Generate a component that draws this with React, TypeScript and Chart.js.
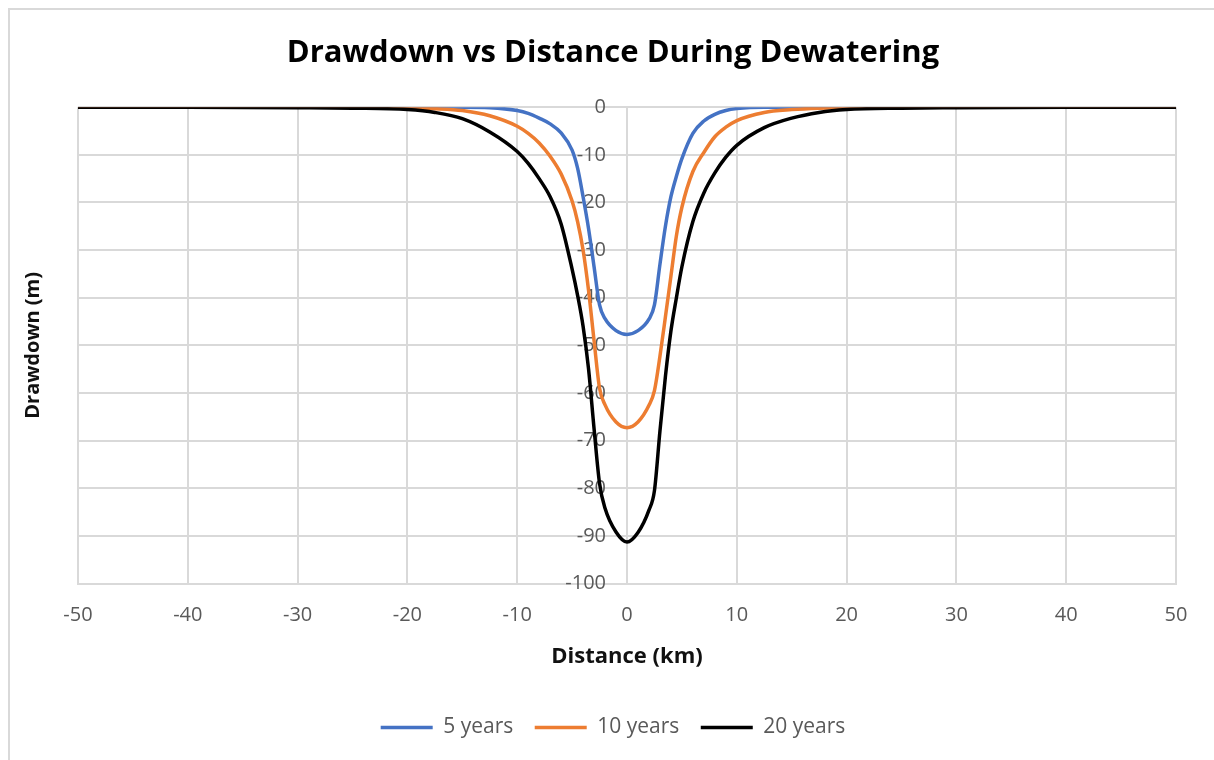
import { useEffect, useRef } from 'react';
import { Chart, registerables } from 'chart.js';

Chart.register(...registerables);

// Distance from the pumping centre (km) and drawdown (m) for each period
const distanceKm = [
  -50, -40, -30, -25, -20, -17.5, -15, -12.5, -10, -9,
  -8, -7, -6, -5, -4.5, -4, -3.5, -3, -2.5, -2,
  -1, 0, 1, 2, 2.5, 3, 3.5, 4, 4.5, 5,
  6, 7, 8, 9, 10, 12.5, 15, 17.5, 20, 25,
  30, 40, 50,
];

const drawdown5yr = [
  0, 0, 0, 0, 0, 0, 0, -0.1, -0.7, -1.3,
  -2.3, -3.5, -5.4, -9, -12.8, -18.8, -25.5, -33.5, -41.5, -44.4,
  -46.9, -47.7, -46.9, -44.5, -41.5, -33, -25, -18.8, -14.5, -10.8,
  -5.5, -2.9, -1.5, -0.7, -0.3, 0, 0, 0, 0, 0,
  0, 0, 0,
];

const drawdown10yr = [
  0, 0, 0, 0, -0.1, -0.3, -0.7, -1.8, -4.0, -5.5,
  -7.5, -10.3, -14, -19.7, -24, -30, -38.5, -49, -59, -62.5,
  -66.1, -67.3, -66.1, -62.6, -59.5, -52.3, -44, -35.5, -27, -21,
  -13.5, -9.5, -6.2, -4.2, -2.8, -1.1, -0.5, -0.2, -0.1, 0,
  0, 0, 0,
];

const drawdown20yr = [
  0, 0, -0.1, -0.2, -0.5, -1.1, -2.4, -5.2, -9.3, -11.8,
  -15, -18.8, -24.5, -34, -39.5, -46, -55, -67.5, -79, -84.2,
  -89.2, -91.3, -89.3, -84.6, -80.5, -68, -56.5, -47, -40, -33.5,
  -24, -18, -13.8, -10.5, -8, -4.3, -2.3, -1.1, -0.5, -0.2,
  -0.1, 0, 0,
];

const seriesLabels = ['5 years', '10 years', '20 years'];
const seriesColors = ['#4472C4', '#ED7D31', '#000000'];

const FONT = '"Open Sans", "Noto Sans", sans-serif';
const GRID = '#d9d9d9';
const MUTED = '#595959';

// an axis that only reserves space (or carries a title) beside the plot
const spacerAxis = (position: 'left' | 'right', width: number, title?: any) => ({
  type: 'linear',
  position,
  display: true,
  grid: { display: false, drawTicks: false },
  border: { display: false },
  ticks: { display: false },
  title: title ?? { display: false },
  afterFit: (scale: any) => {
    scale.width = width;
  },
});

export default function App() {
  const canvasRef = useRef<HTMLCanvasElement>(null);

  useEffect(() => {
    const canvas = canvasRef.current;
    if (!canvas) return;
    const toPoints = (ys: number[]) => distanceKm.map((x, i) => ({ x, y: ys[i] }));
    const series = [drawdown5yr, drawdown10yr, drawdown20yr];

    const chart = new Chart(canvas, {
      type: 'line',
      data: {
        datasets: series.map((ys, i) => ({
          label: seriesLabels[i],
          data: toPoints(ys),
          borderColor: seriesColors[i],
          backgroundColor: seriesColors[i],
          borderWidth: 3.5,
          pointRadius: 0,
          fill: false,
          cubicInterpolationMode: 'monotone' as const,
          xAxisID: 'x',
          yAxisID: 'y',
          // longest period drawn on top
          order: 3 - i,
        })),
      },
      options: {
        animation: false,
        responsive: false,
        maintainAspectRatio: false,
        layout: { padding: { left: 12, right: 0, top: 0, bottom: 12 } },
        plugins: {
          title: {
            display: true,
            text: 'Drawdown vs Distance During Dewatering',
            color: '#000',
            font: { family: FONT, size: 31, weight: 'bold' },
            padding: { top: 35, bottom: 35 },
          },
          legend: {
            position: 'bottom',
            labels: {
              usePointStyle: true,
              pointStyle: 'line',
              pointStyleWidth: 52,
              boxHeight: 21,
              padding: 21.5,
              color: MUTED,
              font: { family: FONT, size: 21 },
              sort: (a: any, b: any) => a.datasetIndex - b.datasetIndex,
            },
          },
          tooltip: { enabled: false },
        },
        scales: {
          x: {
            type: 'linear',
            position: 'bottom',
            min: -50,
            max: 50,
            ticks: { stepSize: 10, color: MUTED, font: { family: FONT, size: 20 }, padding: 20 },
            grid: { color: GRID, lineWidth: 2, drawTicks: false },
            border: { color: GRID, width: 2 },
            title: {
              display: true,
              text: 'Distance (km)',
              color: '#111',
              font: { family: FONT, size: 22, weight: 'bold' },
              padding: { top: 0, bottom: 26 },
            },
            afterFit: (scale: any) => {
              scale.height = 112;
            },
          },
          y: {
            type: 'linear',
            // value labels sit just left of the zero-distance line
            position: { x: -1.91 },
            min: -100,
            max: 0,
            ticks: { stepSize: 10, color: MUTED, font: { family: FONT, size: 20 } },
            grid: { color: GRID, lineWidth: 2, drawTicks: false },
            border: { display: false },
          },
          yTitle: spacerAxis('left', 66, {
            display: true,
            text: 'Drawdown (m)',
            color: '#111',
            font: { family: FONT, size: 20, weight: 'bold' },
            padding: { top: 9, bottom: 0 },
          }),
          ySpacer: spacerAxis('right', 38),
        },
      } as any,
    });

    return () => chart.destroy();
  }, []);

  return (
    <div style={{ position: 'fixed', left: 0, top: 0, width: 1214, height: 760, background: '#fff' }}>
      <div
        style={{
          position: 'absolute',
          left: 8,
          top: 8,
          right: -4,
          bottom: -4,
          borderLeft: `2px solid ${GRID}`,
          borderTop: `2px solid ${GRID}`,
        }}
      />
      <canvas ref={canvasRef} width={1214} height={760} style={{ position: 'absolute', left: 0, top: 0 }} />
    </div>
  );
}
